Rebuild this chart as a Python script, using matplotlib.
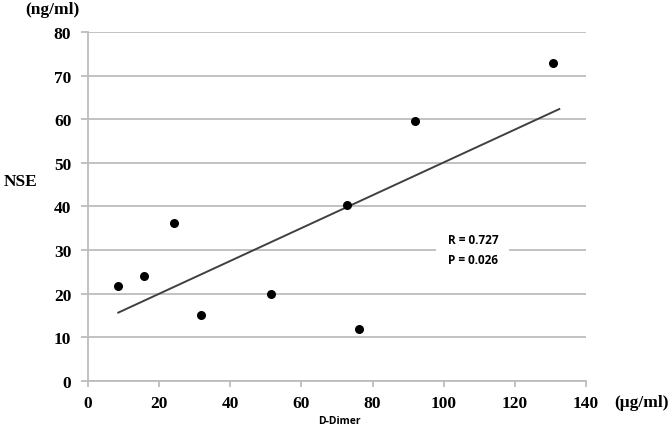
import matplotlib.pyplot as plt
import numpy as np

# D-Dimer (ug/ml) vs NSE (ng/ml)
d_dimer = [8.5, 15.7, 24.2, 31.8, 51.4, 72.7, 76.3, 91.9, 130.7]
nse = [21.7, 24.0, 36.2, 15.1, 20.0, 40.4, 11.8, 59.5, 72.9]
fit_range = [8.5, 132.5]
x_ticks = [0, 20, 40, 60, 80, 100, 120, 140]
y_ticks = [0, 10, 20, 30, 40, 50, 60, 70, 80]

serif = 'Liberation Serif'
grid_col = '#bdbdbd'

fig = plt.figure(figsize=(6.72, 4.35), dpi=100)
ax = fig.add_axes([0.131, 0.122, 0.741, 0.802])

slope, inter = np.polyfit(d_dimer, nse, 1)
xs = np.array(fit_range)
ax.plot(xs, slope * xs + inter, color='#404040', lw=1.4, zorder=3)
ax.scatter(d_dimer, nse, s=30, color='black', zorder=4)

ax.set_xlim(0, 140)
ax.set_ylim(0, 80)
ax.set_xticks(x_ticks)
ax.set_yticks(y_ticks)
ax.grid(axis='y', color=grid_col, lw=1.3)
ax.set_axisbelow(True)
for s in ['top', 'right']:
    ax.spines[s].set_visible(False)
for s in ['left', 'bottom']:
    ax.spines[s].set_color(grid_col)
    ax.spines[s].set_linewidth(1.3)
ax.tick_params(axis='y', length=5, width=1.3, color=grid_col, pad=7)
ax.tick_params(axis='x', length=4, width=1.3, color=grid_col, pad=6)
for lab in ax.get_xticklabels() + ax.get_yticklabels():
    lab.set_fontfamily(serif)
    lab.set_fontweight('bold')
    lab.set_fontsize(12.5)

ax.text(108.2, 30.2, 'R = 0.727\nP = 0.026', ha='center', va='center',
        fontfamily='Open Sans', fontweight='bold', fontsize=8.5, linespacing=1.7,
        bbox=dict(facecolor='white', edgecolor='none', pad=8), zorder=5)

fig.text(0.078, 0.977, '(ng/ml)', ha='center', va='center',
         fontfamily=serif, fontweight='bold', fontsize=12.5)
fig.text(0.030, 0.582, 'NSE', ha='center', va='center',
         fontfamily=serif, fontweight='bold', fontsize=12.5)
fig.text(0.955, 0.073, '(\u03bcg/ml)', ha='center', va='center',
         fontfamily=serif, fontweight='bold', fontsize=12.5)
fig.text(0.505, 0.032, 'D-Dimer', ha='center', va='center',
         fontfamily='Open Sans', fontweight='bold', fontsize=7.5)

fig.savefig('out.png', dpi=100)
